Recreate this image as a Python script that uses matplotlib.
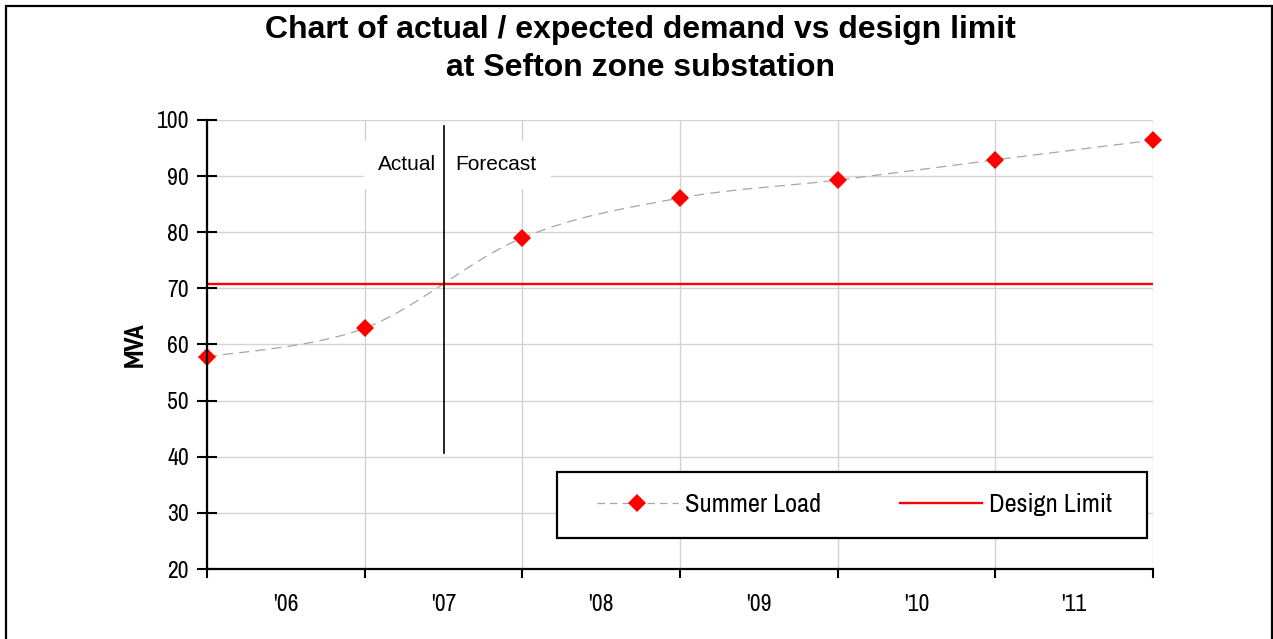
import numpy as np
import matplotlib
matplotlib.use("Agg")
import matplotlib.pyplot as plt
from matplotlib.path import Path
from matplotlib.patches import PathPatch, Rectangle
from matplotlib.lines import Line2D

# data
years = ["'06", "'07", "'08", "'09", "'10", "'11"]
summer_load = [57.8, 62.9, 79.0, 86.1, 89.3, 92.9, 96.4]
design_limit = 70.7
split_pos = 1.5          # boundary between actual and forecast
split_span = (40.7, 98.9)

narrow = ["Archivo Narrow", "Liberation Sans", "DejaVu Sans"]
narrow_bold = ["PT Sans Narrow", "Liberation Sans", "DejaVu Sans"]
plain = ["Liberation Sans", "DejaVu Sans"]

fig = plt.figure(figsize=(12.73, 6.39), dpi=100)
ax = fig.add_axes([207 / 1273, 1 - 569 / 639, (1153 - 207) / 1273, (569 - 120) / 639])

x = np.arange(len(summer_load))

# smoothed line (Excel style) through the points, as bezier segments
pts = np.column_stack([x, summer_load]).astype(float)
ext = np.vstack([pts[0], pts, pts[-1]])
verts = [tuple(pts[0])]
codes = [Path.MOVETO]
for i in range(1, len(ext) - 2):
    p0, p1, p2, p3 = ext[i - 1], ext[i], ext[i + 1], ext[i + 2]
    c1 = p1 + (p2 - p0) / 6
    c2 = p2 - (p3 - p1) / 6
    verts += [tuple(c1), tuple(c2), tuple(p2)]
    codes += [Path.CURVE4] * 3
ax.add_patch(PathPatch(Path(verts, codes), fill=False, edgecolor="#a6a6a6",
                       lw=0.9, ls=(0, (8, 5)), zorder=3))
ax.plot(x, summer_load, ls="none", marker="D", ms=9.5, mfc="#ff0000",
        mec="#ff0000", mew=0, zorder=4, clip_on=False)

ax.axhline(design_limit, color="#ff0000", lw=1.7, zorder=3)
ax.plot([split_pos, split_pos], split_span, color="black", lw=1.2, zorder=5)

ax.text(split_pos - 0.045, 92.0, "Actual", ha="right", va="center", fontsize=15,
        family=plain, zorder=4,
        bbox=dict(boxstyle="square,pad=0.7", fc="white", ec="none"))
ax.text(split_pos + 0.075, 92.0, "Forecast", ha="left", va="center", fontsize=15,
        family=plain, zorder=4,
        bbox=dict(boxstyle="square,pad=0.7", fc="white", ec="none"))

ax.set_xlim(0, 6)
ax.set_ylim(20, 100)
ax.set_yticks(range(20, 101, 10))
ax.set_xticks(range(0, 7))
ax.set_xticklabels([])
ax.set_xticks(np.arange(0.5, 6, 1), minor=True)
ax.set_xticklabels(years, minor=True, fontsize=17, family=narrow)
ax.tick_params(axis="x", which="major", direction="out", length=6.5, width=1.5)
ax.tick_params(axis="x", which="minor", length=0, pad=18)
ax.tick_params(axis="y", direction="inout", length=14, width=1.5, pad=6)
for lab in ax.get_yticklabels():
    lab.set_fontsize(17)
    lab.set_family(narrow)

ax.grid(True, which="major", color="#d4d4d4", lw=1.0, zorder=0)
ax.set_axisbelow(True)
for s in ["top", "right"]:
    ax.spines[s].set_visible(False)
for s in ["left", "bottom"]:
    ax.spines[s].set_linewidth(1.6)
    ax.spines[s].set_zorder(6)

ax.set_ylabel("MVA", fontsize=20, family=narrow_bold, fontweight="bold", labelpad=6)

fig.text(640 / 1273, 1 - 49 / 639,
         "Chart of actual / expected demand vs design limit\nat Sefton zone substation",
         ha="center", va="center", fontsize=23, fontweight="bold", family=plain,
         linespacing=1.32)

# legend box
fig.patches.append(Rectangle((557 / 1273, 1 - 538 / 639), 590 / 1273, 66 / 639,
                             transform=fig.transFigure, fill=True, fc="white",
                             ec="black", lw=1.6, zorder=10))
handles = [Line2D([], [], color="#a6a6a6", lw=0.9, ls=(0, (6, 4)), marker="D",
                  ms=9.5, mfc="#ff0000", mec="#ff0000", mew=0),
           Line2D([], [], color="#ff0000", lw=1.7)]
leg = fig.legend(handles, ["Summer Load", "Design Limit"], loc="center",
                 bbox_to_anchor=(854 / 1273, 1 - 505 / 639), ncol=2, frameon=False,
                 prop=dict(family=narrow, size=19), handlelength=3.1,
                 handletextpad=0.25, columnspacing=3.0)
leg.set_zorder(11)

# outer border of the chart area
fig.patches.append(Rectangle((6 / 1273, -0.05), 1266 / 1273, 1.05 - 6 / 639,
                             transform=fig.transFigure, fill=False, ec="black",
                             lw=1.6, clip_on=False))

fig.savefig("out.png", dpi=100)
